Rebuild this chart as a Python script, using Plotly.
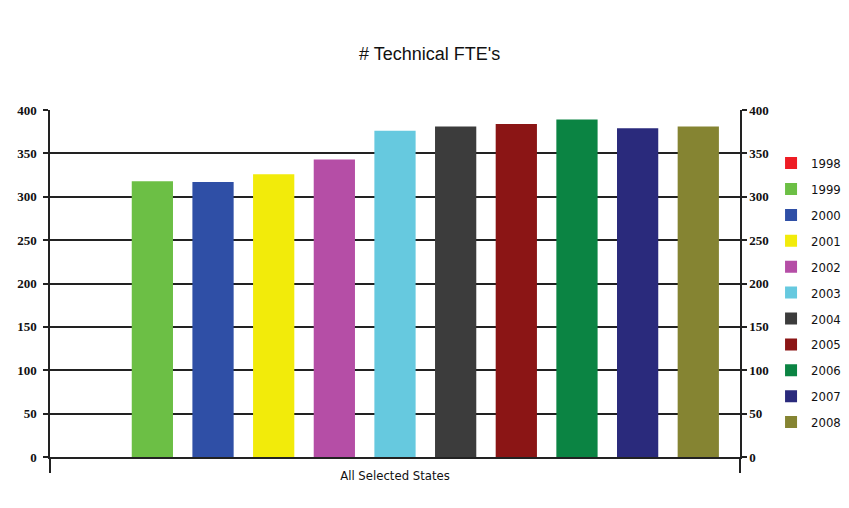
import plotly.graph_objects as go

title = "# Technical FTE's"
category = ["All Selected States"]
years = ["1998", "1999", "2000", "2001", "2002", "2003", "2004", "2005", "2006", "2007", "2008"]
values = [None, 318, 317, 326, 343, 376, 381, 384, 389, 379, 381]
colors = ["#ee1c24", "#6cbf45", "#2f4fa6", "#f2eb0a", "#b54ea6", "#66c9df",
          "#3c3c3c", "#8b1515", "#0b8443", "#2a2a7c", "#858432"]
y_ticks = [0, 50, 100, 150, 200, 250, 300, 350, 400]

NARROW = "DejaVu Sans Condensed, Liberation Sans Narrow, Liberation Sans, sans-serif"
TICKFONT = dict(family="Liberation Serif, Times New Roman, serif", size=13, color="#111",
                weight="bold")

fig = go.Figure()
for yr, v, c in zip(years, values, colors):
    fig.add_trace(go.Bar(x=category, y=[v], name=yr, legendgroup=yr,
                         marker=dict(color=c, line=dict(width=0))))

# companion trace for right-hand axis
fig.add_trace(go.Scatter(x=category, y=[None], yaxis="y2", showlegend=False, hoverinfo="skip"))

fig.update_layout(
    width=849, height=508,
    paper_bgcolor="white", plot_bgcolor="white",
    margin=dict(l=50, r=109, t=110, b=51, autoexpand=False),
    title=dict(text=title, x=0.506, xanchor="center", y=0.895, yanchor="middle",
               font=dict(family="Liberation Sans, sans-serif", size=18, color="#111")),
    barmode="group", bargap=0.033, bargroupgap=0.32,
    xaxis=dict(type="category", showgrid=False, showline=True, linecolor="#222", linewidth=1.5,
               ticks="outside", tickson="boundaries", ticklen=14, tickcolor="#222", tickwidth=1.5,
               tickfont=dict(family=NARROW, size=13, color="#111"), ticklabelstandoff=6),
    yaxis=dict(range=[0, 400], tickvals=y_ticks, showgrid=True, gridcolor="#222", gridwidth=1.5,
               showline=True, linecolor="#222", linewidth=1.5, ticks="outside", ticklen=5,
               tickcolor="#222", tickwidth=1.5, tickfont=TICKFONT, zeroline=False,
               ticklabelstandoff=4),
    yaxis2=dict(range=[0, 400], tickvals=y_ticks, overlaying="y", side="right", showgrid=False,
                showline=True, linecolor="#222", linewidth=1.5, ticks="outside", ticklen=5,
                tickcolor="#222", tickwidth=1.5, tickfont=TICKFONT, zeroline=False),
    legend=dict(x=1.045, xanchor="left", y=0.89, yanchor="top", tracegroupgap=6,
                font=dict(family=NARROW, size=13, color="#111"), itemwidth=30),
    showlegend=True,
)

fig.write_html("out.html", config={"displayModeBar": False},
               post_script="document.body.style.margin='0';")
